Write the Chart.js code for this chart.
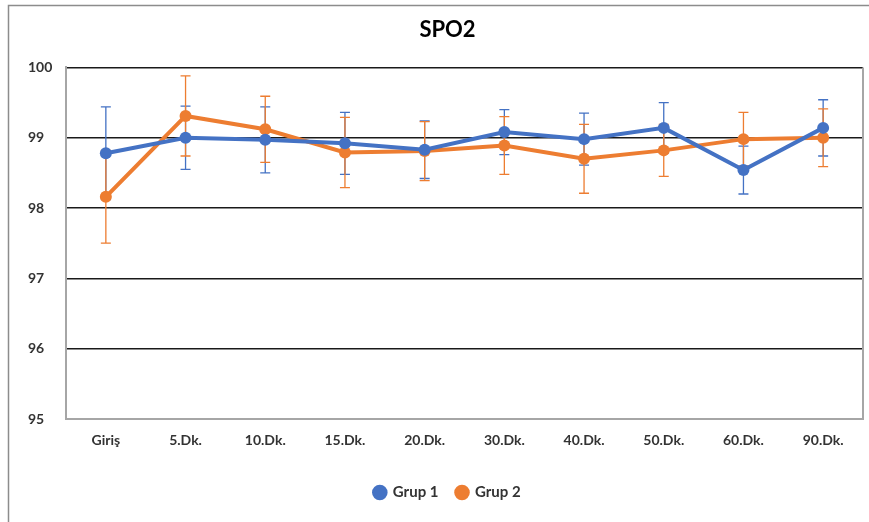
<!DOCTYPE html>
<html><head><meta charset="utf-8">
<script src="https://cdn.jsdelivr.net/npm/chart.js@4.4.1/dist/chart.umd.min.js"></script>
<style>html,body{margin:0;padding:0;background:#fff}#wrap{width:869px;height:522px;position:relative}</style>
</head><body><div id="wrap"><canvas id="c" width="869" height="522"></canvas></div>
<script>
const categories = ['Giriş','5.Dk.','10.Dk.','15.Dk.','20.Dk.','30.Dk.','40.Dk.','50.Dk.','60.Dk.','90.Dk.'];
const grup1 = [98.78, 99.00, 98.97, 98.92, 98.83, 99.08, 98.98, 99.14, 98.54, 99.14];
const grup1Err = [0.66, 0.45, 0.47, 0.44, 0.41, 0.32, 0.37, 0.36, 0.34, 0.40];
const grup2 = [98.16, 99.31, 99.12, 98.79, 98.81, 98.89, 98.70, 98.82, 98.98, 99.00];
const grup2Err = [0.66, 0.57, 0.47, 0.50, 0.42, 0.41, 0.49, 0.37, 0.38, 0.41];
const yTicks = [95, 96, 97, 98, 99, 100];

const BLUE = '#4472C4', ORANGE = '#ED7D31';
const FONT = 'Lato, "Open Sans", sans-serif';

const errorBars = {
  id: 'errorBars',
  beforeDatasetsDraw(chart) {
    const ctx = chart.ctx, y = chart.scales.y;
    chart.data.datasets.forEach((ds, i) => {
      const meta = chart.getDatasetMeta(i);
      ctx.save();
      ctx.strokeStyle = ds.borderColor;
      ctx.lineWidth = 1.3;
      meta.data.forEach((pt, j) => {
        const v = ds.data[j], e = ds.errors[j];
        const yt = y.getPixelForValue(v + e), yb = y.getPixelForValue(v - e);
        const x = pt.x, cap = 5;
        ctx.beginPath();
        ctx.moveTo(x, yt); ctx.lineTo(x, yb);
        ctx.moveTo(x - cap, yt); ctx.lineTo(x + cap, yt);
        ctx.moveTo(x - cap, yb); ctx.lineTo(x + cap, yb);
        ctx.stroke();
      });
      ctx.restore();
    });
  }
};

const frame = {
  id: 'frame',
  beforeDraw(chart) {
    const ctx = chart.ctx;
    ctx.save();
    ctx.strokeStyle = '#8c8c8c';
    ctx.lineWidth = 1.5;
    ctx.beginPath();
    ctx.moveTo(8.5, 522); ctx.lineTo(8.5, 5.5); ctx.lineTo(869, 5.5);
    ctx.stroke();
    ctx.restore();
  },
  beforeDatasetsDraw(chart) {
    const ctx = chart.ctx, a = chart.chartArea;
    ctx.save();
    ctx.strokeStyle = '#a6a6a6';
    ctx.lineWidth = 2;
    ctx.beginPath();
    ctx.moveTo(a.right, a.top); ctx.lineTo(a.right, a.bottom);
    ctx.stroke();
    ctx.restore();
  }
};

new Chart(document.getElementById('c'), {
  type: 'line',
  data: {
    labels: categories,
    datasets: [
      { label: 'Grup 1', data: grup1, errors: grup1Err, borderColor: BLUE, backgroundColor: BLUE,
        borderWidth: 4, pointRadius: 6, pointHoverRadius: 6, pointBorderWidth: 0, tension: 0 },
      { label: 'Grup 2', data: grup2, errors: grup2Err, borderColor: ORANGE, backgroundColor: ORANGE,
        borderWidth: 4, pointRadius: 6, pointHoverRadius: 6, pointBorderWidth: 0, tension: 0 }
    ]
  },
  options: {
    responsive: false,
    animation: false,
    devicePixelRatio: 1,
    layout: { padding: { left: 28, right: 2, top: 0, bottom: 12 } },
    plugins: {
      title: { display: true, text: 'SPO2', color: '#000', font: { family: FONT, size: 22, weight: 'bold' },
               padding: { top: 17, bottom: 24 } },
      legend: { position: 'bottom',
        labels: { usePointStyle: true, pointStyle: 'circle', boxWidth: 11, boxHeight: 11, padding: 18,
                  color: '#333', font: { family: FONT, size: 15, weight: 'bold' } } },
      tooltip: { enabled: false }
    },
    scales: {
      x: {
        offset: true,
        grid: { display: false, drawTicks: false, offset: true },
        border: { display: true, color: '#a6a6a6', width: 2 },
        ticks: { color: '#333', font: { family: FONT, size: 14, weight: 'bold' }, padding: 13, maxRotation: 0 },
        afterFit(axis) { axis.height = 48; }
      },
      y: {
        min: 95, max: 100,
        afterBuildTicks(axis) { axis.ticks = yTicks.map(v => ({ value: v })); },
        grid: { drawTicks: false, lineWidth: 1.5,
                color: c => (c.tick && c.tick.value === 95) ? '#a6a6a6' : '#1a1a1a' },
        border: { display: true, color: '#a6a6a6', width: 2 },
        ticks: { color: '#333', font: { family: FONT, size: 14, weight: 'bold' }, crossAlign: 'far', padding: 8 },
        afterFit(axis) { axis.width = 38; }
      }
    }
  },
  plugins: [frame, errorBars]
});
</script></body></html>
